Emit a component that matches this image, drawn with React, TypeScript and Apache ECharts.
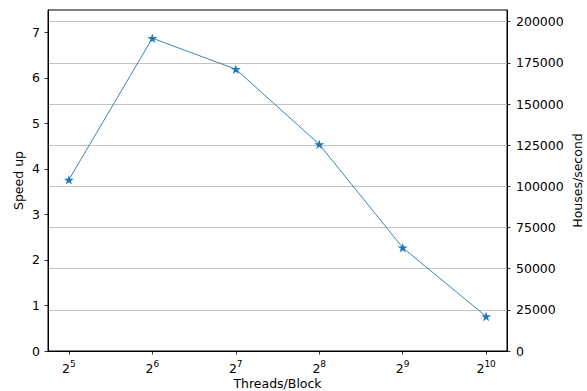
import React, { useEffect, useRef } from "react";
import * as echarts from "echarts";

// Threads per block (powers of two)
const threadsPerBlock = [32, 64, 128, 256, 512, 1024];
// Speed-up relative to baseline
const speedUp = [3.76, 6.87, 6.19, 4.54, 2.27, 0.76];
// Throughput in houses per second
const housesPerSecond = [104000, 190000, 171100, 125500, 62800, 21000];
// Tick labels
const exponentTicks = [5, 6, 7, 8, 9, 10];
const speedTicks = [0, 1, 2, 3, 4, 5, 6, 7];
const housesTicks = [0, 25000, 50000, 75000, 100000, 125000, 150000, 175000, 200000];

// Five-pointed star marker path
function starPath(): string {
  const pts: string[] = [];
  const inner = 0.381966;
  for (let i = 0; i < 10; i++) {
    const r = i % 2 === 0 ? 1 : inner;
    const a = (-90 + i * 36) * (Math.PI / 180);
    const x = (r * Math.cos(a)).toFixed(4);
    const y = (r * Math.sin(a)).toFixed(4);
    pts.push(`${i === 0 ? "M" : "L"}${x} ${y}`);
  }
  return "path://" + pts.join(" ") + " Z";
}

const FONT = "DejaVu Sans";
const BLUE = "#1f77b4";

export default function App() {
  const ref = useRef<HTMLDivElement>(null);

  useEffect(() => {
    if (!ref.current) return;
    const chart = echarts.init(ref.current, undefined, { renderer: "svg" });
    const star = starPath();
    const xs = threadsPerBlock.map((t) => Math.log2(t));

    chart.setOption({
      animation: false,
      textStyle: { fontFamily: FONT },
      grid: {
        left: 48,
        right: 80,
        top: 10,
        bottom: 40,
        outerBoundsMode: "none",
        containLabel: false,
        show: true,
        borderColor: "#000",
        borderWidth: 1,
        backgroundColor: "transparent",
      },
      xAxis: {
        type: "value",
        min: 4.75,
        max: 10.25,
        name: "Threads/Block",
        nameLocation: "middle",
        nameGap: 25,
        nameMoveOverlap: false,
        nameTextStyle: { fontSize: 12.5, color: "#000", fontFamily: FONT, lineHeight: 14 },
        axisLine: { show: true, lineStyle: { color: "#000", width: 1 } },
        axisTick: {
          show: true,
          length: 3.5,
          customValues: exponentTicks,
          lineStyle: { color: "#000", width: 0.8 },
        },
        splitLine: { show: false },
        axisLabel: {
          margin: 8,
          customValues: exponentTicks,
          formatter: (v: number) => `{b|2}{s|${v}}`,
          rich: {
            b: { fontSize: 12.5, color: "#000", fontFamily: FONT, lineHeight: 16, verticalAlign: "bottom" },
            s: { fontSize: 9, color: "#000", fontFamily: FONT, lineHeight: 10, verticalAlign: "top" },
          },
        },
      },
      yAxis: [
        {
          type: "value",
          min: 0,
          max: 7.49,
          interval: 1,
          position: "left",
          name: "Speed up",
          nameLocation: "middle",
          nameGap: 23,
          nameMoveOverlap: false,
          nameRotate: 90,
          nameTextStyle: { fontSize: 12.5, color: "#000", fontFamily: FONT, lineHeight: 14 },
          axisLine: { show: true, lineStyle: { color: "#000", width: 1 } },
          axisTick: {
            show: true,
            length: 3.5,
            customValues: speedTicks,
            lineStyle: { color: "#000", width: 0.8 },
          },
          splitLine: { show: false },
          axisLabel: {
            margin: 8,
            customValues: speedTicks,
            fontSize: 12.5,
            color: "#000",
            fontFamily: FONT,
          },
        },
        {
          type: "value",
          min: 0,
          max: 207100,
          interval: 25000,
          position: "right",
          name: "Houses/second",
          nameLocation: "middle",
          nameGap: 63,
          nameMoveOverlap: false,
          nameRotate: 90,
          nameTextStyle: { fontSize: 12.5, color: "#000", fontFamily: FONT, lineHeight: 14 },
          axisLine: { show: true, lineStyle: { color: "#000", width: 1 } },
          axisTick: {
            show: true,
            length: 3.5,
            customValues: housesTicks,
            lineStyle: { color: "#000", width: 0.8 },
          },
          splitLine: { show: true, lineStyle: { color: "#c4c4c4", width: 1 } },
          axisLabel: {
            margin: 9,
            customValues: housesTicks,
            formatter: (v: number) => String(v),
            fontSize: 12.5,
            color: "#000",
            fontFamily: FONT,
          },
        },
      ],
      series: [
        {
          type: "line",
          yAxisIndex: 1,
          data: xs.map((x, i) => [x, housesPerSecond[i]]),
          symbol: "none",
          lineStyle: { opacity: 0 },
          silent: true,
          z: 1,
        },
        {
          type: "line",
          yAxisIndex: 0,
          data: xs.map((x, i) => [x, speedUp[i]]),
          symbol: star,
          symbolSize: 10,
          symbolKeepAspect: true,
          itemStyle: { color: BLUE },
          lineStyle: { color: BLUE, width: 0.9 },
          z: 3,
        },
      ],
    });

    return () => chart.dispose();
  }, []);

  return (
    <div
      ref={ref}
      style={{ position: "fixed", left: 0, top: 0, width: 587, height: 391, background: "#fff" }}
    />
  );
}
